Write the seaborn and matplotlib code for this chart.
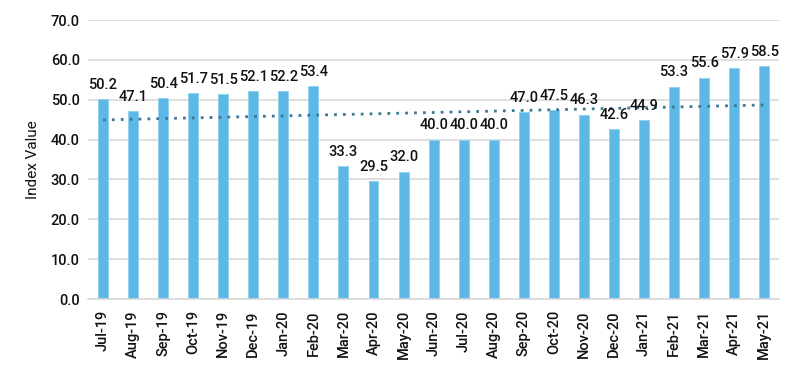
import numpy as np
import pandas as pd
import seaborn as sns
import matplotlib.pyplot as plt

months = ["Jul-19", "Aug-19", "Sep-19", "Oct-19", "Nov-19", "Dec-19", "Jan-20", "Feb-20",
          "Mar-20", "Apr-20", "May-20", "Jun-20", "Jul-20", "Aug-20", "Sep-20", "Oct-20",
          "Nov-20", "Dec-20", "Jan-21", "Feb-21", "Mar-21", "Apr-21", "May-21"]
values = [50.2, 47.1, 50.4, 51.7, 51.5, 52.1, 52.2, 53.4, 33.3, 29.5, 32.0, 40.0,
          40.0, 40.0, 47.0, 47.5, 46.3, 42.6, 44.9, 53.3, 55.6, 57.9, 58.5]
y_ticks = [0, 10, 20, 30, 40, 50, 60, 70]

df = pd.DataFrame({"month": months, "value": values})

sns.set_theme(style="white")
plt.rcParams["font.family"] = ["Roboto", "DejaVu Sans"]
plt.rcParams["font.weight"] = "medium"

fig = plt.figure(figsize=(8, 3.66), dpi=100)
ax = fig.add_axes([0.11, 0.183, 0.864, 0.762])

ax.yaxis.grid(True, color="#d9d9d9", linewidth=1.2)
ax.set_axisbelow(True)

sns.barplot(data=df, x="month", y="value", color="#5db8e5", width=0.33,
            saturation=1, edgecolor="#8fd0f0", linewidth=0.6, ax=ax)

# linear trendline, drawn over the bars
xs = np.arange(len(values))
slope, intercept = np.polyfit(xs, values, 1)
ax.plot(xs, slope * xs + intercept, linestyle=(0, (1, 2.2)), color="#3d7896",
        linewidth=2, zorder=5)

for i, v in enumerate(values):
    ax.text(i, v + 1.8, f"{v:.1f}", ha="center", va="bottom", fontsize=10.5,
            color="#111111", zorder=6)

ax.set_xlim(-0.5, len(months) - 0.5)
ax.set_ylim(0, 70)
ax.set_yticks(y_ticks)
ax.set_yticklabels([f"{t:.1f}" for t in y_ticks], fontsize=10.5, color="#111111")
ax.set_xticks(xs)
ax.set_xticklabels(months, rotation=90, fontsize=10.5, color="#111111")
ax.tick_params(axis="x", length=0, pad=8)
ax.tick_params(axis="y", length=0, pad=6)
ax.set_xticks(np.arange(-0.5, len(months), 1), minor=True)
ax.tick_params(axis="x", which="minor", length=4, color="#d9d9d9", width=1.2)
ax.set_xlabel("")
ax.set_ylabel("Index Value", fontsize=11, color="#111111", labelpad=8)

for s in ["top", "right", "left"]:
    ax.spines[s].set_visible(False)
ax.spines["bottom"].set_color("#d9d9d9")
ax.spines["bottom"].set_linewidth(1.2)

fig.savefig("out.png", dpi=100)
